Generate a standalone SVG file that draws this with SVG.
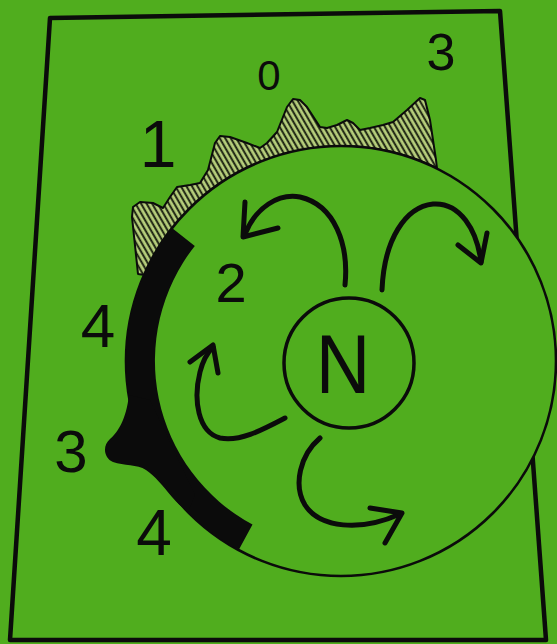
<svg xmlns="http://www.w3.org/2000/svg" width="557" height="644" viewBox="0 0 557 644">
<style>
.ink{fill:none;stroke:#0b0b0b;stroke-linecap:round;stroke-linejoin:round}
.arrow{fill:none;stroke:#0b0b0b;stroke-width:5;stroke-linecap:round;stroke-linejoin:round}
.lbl{font-family:"Liberation Sans",Arial,sans-serif;fill:#0b0b0b;text-anchor:middle}
</style>
<defs>
<pattern id="hatch" patternUnits="userSpaceOnUse" width="4.8" height="10" patternTransform="rotate(-30)">
<rect width="4.8" height="10" fill="#b7cf7c"/>
<line x1="1.2" y1="0" x2="1.2" y2="10" stroke="#141a0c" stroke-width="1.9"/>
</pattern>
</defs>
<rect id="background" x="0" y="0" width="557" height="644" fill="#50ad1e"/>
<g id="frame">
<polygon class="ink" points="50,18 500,11 546,640 10,640" stroke-width="4.5"/>
</g>
<g id="hatched-zone">
<path d="M138,274 L132,217 L133,207 L140,202 L153,203 L163,208 L170,197 L177,187 L190,185 L200,183 L208,170 L215,143 L220,136 L230,137 L247,143 L260,148 L267,143 L277,132 L287,107 L293,99 L300,100 L307,107 L320,127 L327,128 L337,125 L347,120 L353,123 L360,130 L370,128 L383,125 L393,122 L407,110 L420,98 L425,100 L430,120 L436,160 L437,168 A215 215 0 0 0 145,275 Z" fill="url(#hatch)" stroke="#0b0b0b" stroke-width="2" stroke-linejoin="round"/>
</g>
<g id="big-circle">
<circle cx="341" cy="361" r="215" fill="#50ad1e" stroke="#0b0b0b" stroke-width="2.6"/>
</g>
<g id="black-band">
<path d="M172,228 A215 215 0 0 0 238.7,550.1 L252.5,524.6 A186 186 0 0 1 194.8,245.9 Z" fill="#0b0b0b"/>
<path d="M129,395 C126,420 118,432 110,439 C102,446 104,458 113,462 C124,466 137,464 146,470 C155,476 163,486 172,497 C178,504 183,508 188,512 L195,495 L150,400 Z" fill="#0b0b0b"/>
</g>
<g id="nucleus">
<circle cx="349" cy="363" r="65" fill="none" stroke="#0b0b0b" stroke-width="3.5"/>
<text class="lbl" x="0" y="393" font-size="84" transform="translate(343,0) scale(0.9,1)">N</text>
</g>
<g id="arrows">
<path class="arrow" d="M345,285 C349,245 335,205 300,197 C278,193 256,208 246,232"/>
<path class="arrow" d="M245,202 L243,237 L278,228"/>
<path class="arrow" d="M382,290 C384,240 405,207 433,204 C460,202 477,230 481,262"/>
<path class="arrow" d="M487,233 L481,263 L458,245"/>
<path class="arrow" d="M285,418 C262,430 240,442 220,438 C198,432 193,400 200,372 C203,360 208,352 213,347"/>
<path class="arrow" d="M190,362 L213,345 L218,373"/>
<path class="arrow" d="M320,438 C300,455 293,485 305,505 C320,528 360,532 400,514"/>
<path class="arrow" d="M370,508 L402,513 L385,543"/>
</g>
<g id="labels">
<text class="lbl" x="269" y="90" font-size="42">0</text>
<text class="lbl" x="441" y="70" font-size="52">3</text>
<text class="lbl" x="158" y="167" font-size="66">1</text>
<text class="lbl" x="231" y="302" font-size="56">2</text>
<text class="lbl" x="98" y="347" font-size="62">4</text>
<text class="lbl" x="71" y="472" font-size="60">3</text>
<text class="lbl" x="154" y="555" font-size="64">4</text>
</g>
</svg>
